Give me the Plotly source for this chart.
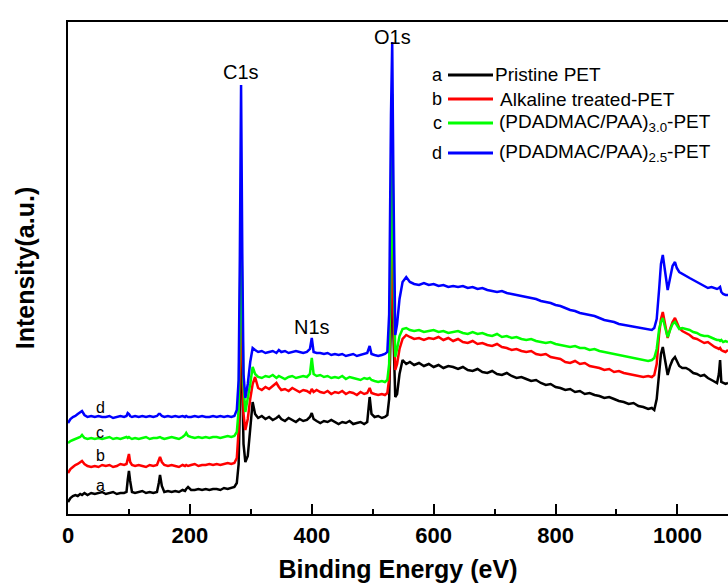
import plotly.graph_objects as go

# Binding energy grid (eV), shared by all four spectra
energy = [
    0, 4, 8, 12, 16, 20, 23, 27, 32, 38,
    44, 50, 56, 62, 68, 74, 80, 86, 92, 96,
    98, 100, 102, 105, 110, 116, 122, 128, 134, 140,
    146, 149, 151, 154, 158, 164, 170, 176, 182, 188,
    192, 194, 197, 202, 208, 214, 220, 226, 232, 238,
    244, 250, 256, 262, 268, 273, 277, 280, 282, 284,
    286, 288, 291, 295, 299, 303, 307, 312, 318, 324,
    330, 336, 342, 346, 350, 356, 362, 368, 374, 380,
    386, 392, 397, 400, 403, 408, 414, 420, 426, 432,
    438, 444, 450, 456, 462, 468, 474, 480, 486, 491,
    495, 498, 503, 509, 515, 520, 524, 527, 530, 532,
    534, 537, 540, 544, 549, 555, 561, 568, 576, 584,
    592, 600, 608, 616, 624, 632, 640, 648, 656, 664,
    672, 680, 688, 696, 704, 712, 720, 728, 736, 744,
    752, 760, 768, 776, 784, 792, 800, 808, 816, 824,
    832, 840, 848, 856, 864, 872, 880, 888, 896, 904,
    912, 920, 928, 936, 944, 952, 958, 962, 966, 970,
    973, 976, 980, 984, 988, 992, 996, 999, 1003, 1008,
    1014, 1020, 1026, 1032, 1038, 1044, 1050, 1056, 1061, 1065,
    1068, 1070, 1072, 1075, 1079, 1083,
]

# a: Pristine PET (offset spectra, arbitrary units)
intensity_a = [
    12, 16, 18, 19, 18, 20, 19, 21, 19, 21,
    20, 21, 22, 20, 21, 22, 20, 21, 21, 22,
    34, 43, 33, 22, 21, 22, 23, 21, 22, 21,
    22, 31, 39, 28, 22, 23, 22, 23, 22, 24,
    23, 25, 27, 24, 24, 25, 24, 25, 24, 25,
    25, 24, 26, 25, 26, 27, 31, 50, 110, 250,
    130, 70, 52, 58, 85, 112, 100, 96, 98, 95,
    97, 94, 96, 98, 95, 93, 96, 94, 92, 95,
    93, 94, 97, 101, 95, 93, 91, 93, 92, 94,
    92, 90, 92, 91, 93, 90, 91, 92, 90, 92,
    117, 100, 97, 98, 96, 97, 99, 115, 200, 310,
    180, 117, 120, 140, 154, 150, 152, 149, 151, 148,
    150, 147, 149, 146, 148, 147, 145, 147, 144, 143,
    145, 142, 141, 143, 140, 139, 141, 138, 136, 137,
    135, 133, 134, 131, 129, 130, 127, 126, 124, 125,
    122, 123, 120, 121, 119, 118, 116, 117, 115, 113,
    112, 110, 111, 108, 107, 105, 106, 104, 115, 145,
    160, 167, 152, 139, 148, 154, 157, 153, 148, 146,
    146, 144, 141, 140, 138, 139, 136, 134, 132, 131,
    140, 154, 132, 131, 130, 131,
]

# b: Alkaline treated-PET
intensity_b = [
    41, 45, 47, 49, 50, 52, 53, 50, 48, 47,
    48, 47, 49, 48, 49, 47, 48, 50, 49, 50,
    57, 60, 52, 49, 48, 49, 48, 47, 49, 48,
    49, 53, 57, 52, 49, 48, 49, 48, 47, 49,
    48, 49, 48, 49, 50, 48, 49, 49, 50, 49,
    50, 49, 50, 51, 50, 51, 56, 84, 150, 280,
    160, 100, 84, 95, 115, 130, 137, 126, 124, 127,
    125, 128, 131, 127, 124, 125, 123, 126, 124, 122,
    124, 123, 121, 125, 122, 124, 122, 121, 123, 120,
    122, 121, 123, 120, 122, 121, 119, 122, 120, 121,
    126, 121, 120, 119, 120, 119, 121, 135, 230, 330,
    200, 144, 150, 165, 175, 179, 177, 175, 176, 174,
    176, 175, 177, 174, 176, 173, 175, 172, 171, 173,
    170, 171, 169, 168, 170, 167, 166, 164, 165, 163,
    162, 163, 160, 159, 160, 157, 156, 155, 152, 151,
    153, 150, 151, 148, 147, 146, 144, 145, 142, 143,
    141, 140, 139, 138, 137, 138, 137, 139, 150, 180,
    195, 202, 188, 176, 185, 192, 196, 192, 186, 183,
    181, 179, 176, 175, 173, 171, 172, 169, 167, 166,
    165, 166, 164, 163, 162, 164,
]

# c: (PDADMAC/PAA)3.0-PET
intensity_c = [
    71, 73, 74, 75, 76, 77, 79, 76, 75, 76,
    75, 76, 75, 76, 77, 75, 76, 75, 76, 77,
    76, 77, 76, 75, 76, 75, 76, 77, 75, 76,
    76, 77, 77, 76, 75, 76, 77, 76, 75, 77,
    79, 81, 78, 77, 76, 77, 76, 77, 76, 77,
    77, 76, 77, 78, 77, 78, 82, 104, 200, 320,
    200, 130, 102, 115, 130, 147, 140, 137, 136, 138,
    137, 139, 136, 138, 137, 135, 137, 138, 136, 137,
    138, 137, 140, 156, 140, 138, 139, 137, 138, 136,
    137, 136, 138, 135, 137, 136, 135, 134, 136, 135,
    136, 134, 133, 132, 133, 132, 134, 150, 280, 420,
    260, 157, 165, 178, 185, 186, 184, 183, 184, 182,
    183, 184, 182, 183, 181, 182, 183, 181, 180, 182,
    180, 181, 179, 178, 180, 177, 178, 176, 177, 175,
    174, 175, 173, 172, 171, 172, 170, 169, 168, 167,
    168, 166, 166, 164, 165, 163, 162, 161, 160, 159,
    158, 157, 156, 155, 154, 153, 154, 156, 165, 185,
    192, 196, 186, 177, 184, 190, 192, 189, 185, 186,
    185, 184, 182, 181, 179, 178, 178, 176, 175, 174,
    174, 173, 174, 172, 173, 172,
]

# d: (PDADMAC/PAA)2.5-PET
intensity_d = [
    91, 95, 97, 98, 100, 102, 103, 99, 97, 98,
    97, 98, 97, 97, 98, 96, 97, 98, 97, 98,
    101, 100, 98, 97, 98, 97, 98, 97, 98, 97,
    98, 100, 100, 98, 97, 98, 97, 98, 97, 98,
    97, 98, 97, 97, 98, 97, 98, 97, 97, 98,
    97, 98, 97, 98, 97, 98, 104, 134, 260, 429,
    260, 140, 116, 130, 152, 166, 164, 162, 163, 161,
    162, 163, 161, 164, 162, 163, 161, 162, 163, 162,
    161, 162, 165, 176, 162, 161, 161, 160, 161, 159,
    160, 159, 160, 158, 159, 160, 158, 159, 160, 161,
    168, 160, 159, 158, 159, 160, 162, 200, 400, 472,
    330, 179, 190, 215, 232, 237, 232, 230, 229, 231,
    229, 230, 228, 229, 227, 228, 227, 228, 226, 227,
    225, 226, 224, 223, 222, 223, 221, 220, 219, 218,
    217, 216, 215, 213, 212, 211, 209, 208, 206, 204,
    203, 201, 200, 199, 198, 196, 194, 193, 192, 190,
    189, 188, 187, 186, 185, 184, 184, 186, 195, 225,
    250, 259, 240, 224, 236, 248, 252, 246, 242, 240,
    238, 236, 234, 232, 230, 228, 226, 227, 226, 225,
    226, 227, 222, 220, 219, 219,
]

series_letters = ["a", "b", "c", "d"]
series_names = [
    "Pristine PET",
    "Alkaline treated-PET",
    "(PDADMAC/PAA)<sub>3.0</sub>-PET",
    "(PDADMAC/PAA)<sub>2.5</sub>-PET",
]
series_colors = ["#000000", "#ff0000", "#00ff00", "#0000ff"]
series_values = [intensity_a, intensity_b, intensity_c, intensity_d]

peak_labels = ["C1s", "N1s", "O1s"]
peak_energies = [284, 400, 532]
peak_label_heights = [442, 187, 477]

FONT = "Arial, Liberation Sans, sans-serif"

fig = go.Figure()
for name, col, vals in zip(series_names, series_colors, series_values):
    fig.add_trace(go.Scatter(
        x=energy, y=vals, mode="lines", name=name,
        line=dict(color=col, width=2.5), showlegend=False,
    ))

annotations = []
# peak labels
for lab, e, h in zip(peak_labels, peak_energies, peak_label_heights):
    annotations.append(dict(x=e, y=h, xref="x", yref="y", text=lab,
                            showarrow=False, font=dict(size=20, color="black", family=FONT),
                            xanchor="center", yanchor="middle"))

# curve letters near the left
curve_letter_y = [29, 59, 82, 107]
for letter, yy in zip(series_letters, curve_letter_y):
    annotations.append(dict(x=53, y=yy, xref="x", yref="y", text=letter,
                            showarrow=False, font=dict(size=16, color="black", family=FONT),
                            xanchor="center", yanchor="middle"))

# legend (letter, line sample, text) in pixel-derived paper coords
W, H = 728, 583
L, R, T, B = 68, 0, 22, 69
pw, ph = W - L - R, H - T - B
def px(xp):
    return (xp - L) / pw
def py(yp):
    return (H - B - yp) / ph

leg_y = [75, 99, 123, 153]
leg_text_x = [493, 498, 497, 497]
shapes = []
for letter, name, col, yy, tx in zip(series_letters, series_names, series_colors, leg_y, leg_text_x):
    annotations.append(dict(x=px(437), y=py(yy), xref="paper", yref="paper", text=letter,
                            showarrow=False, font=dict(size=18, color="black", family=FONT),
                            xanchor="center", yanchor="middle"))
    shapes.append(dict(type="line", xref="paper", yref="paper",
                       x0=px(448), x1=px(493), y0=py(yy), y1=py(yy),
                       line=dict(color=col, width=3)))
    annotations.append(dict(x=px(tx), y=py(yy), xref="paper", yref="paper", text=name,
                            showarrow=False, font=dict(size=19, color="black", family=FONT),
                            xanchor="left", yanchor="middle"))

fig.update_layout(
    width=W, height=H,
    margin=dict(l=L, r=R, t=T, b=B, pad=0),
    paper_bgcolor="white", plot_bgcolor="white",
    showlegend=False,
    annotations=annotations,
    shapes=shapes,
    font=dict(family=FONT, color="black"),
)

fig.update_xaxes(
    range=[0, 1083], autorange=False,
    showline=True, linewidth=2, linecolor="black", mirror=True,
    showgrid=False, zeroline=False,
    ticks="inside", ticklen=10, tickwidth=2, tickcolor="black",
    tick0=0, dtick=200,
    minor=dict(ticks="inside", ticklen=5, tickwidth=2, tickcolor="black", dtick=100, showgrid=False),
    tickfont=dict(size=22, family=FONT, color="black", weight="bold"),
    ticklabelstandoff=1,
    title=dict(text="Binding Energy (eV)", standoff=16,
               font=dict(size=25, family=FONT, color="black", weight="bold")),
    automargin=False,
)
fig.update_yaxes(
    range=[0, 492], autorange=False,
    showline=True, linewidth=2, linecolor="black", mirror=False,
    showgrid=False, zeroline=False,
    ticks="", showticklabels=False,
    title=dict(text="Intensity(a.u.)", standoff=24,
               font=dict(size=25, family=FONT, color="black", weight="bold")),
    automargin=False,
)

fig.write_html("out.html")
